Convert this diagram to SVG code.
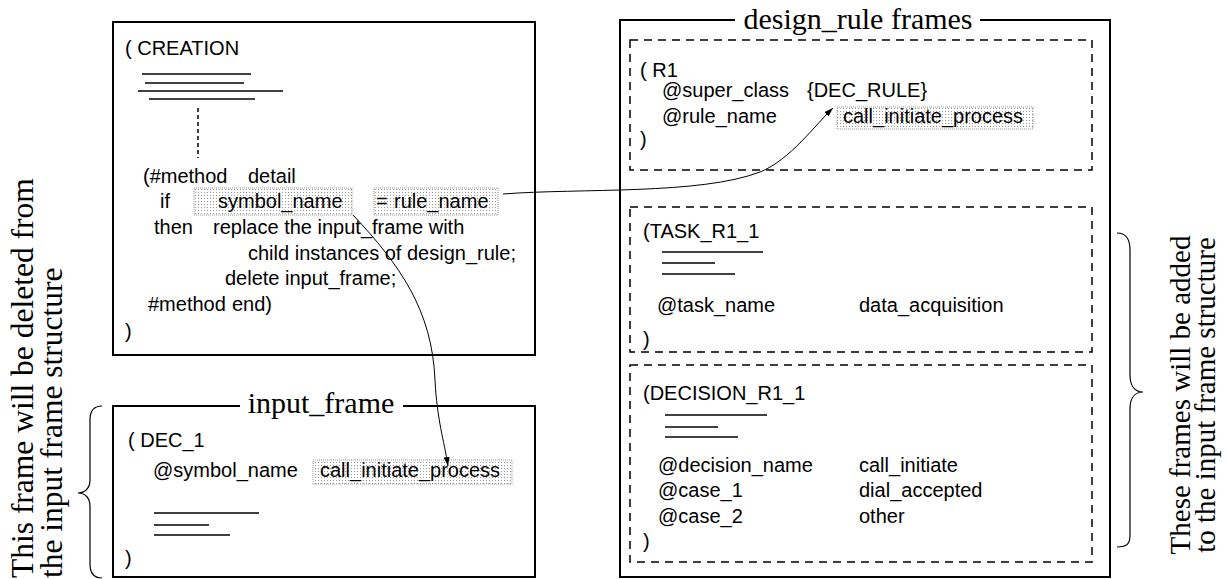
<svg xmlns="http://www.w3.org/2000/svg" width="1227" height="579" viewBox="0 0 1227 579">
<style>
.t{font-family:"Liberation Sans",Arial,sans-serif;font-size:20px;fill:#000}
.s{font-family:"Liberation Serif","Times New Roman",serif;font-size:30px;fill:#000}
.box{fill:none;stroke:#000;stroke-width:2}
.dash{fill:none;stroke:#000;stroke-width:1.5;stroke-dasharray:8 6}
.ln{stroke:#000;stroke-width:1.5}
.hl{fill:url(#dots);stroke:#999;stroke-width:1;stroke-dasharray:1 1}
.con{fill:none;stroke:#000;stroke-width:1}
.brace{fill:none;stroke:#000;stroke-width:1.2}
</style>
<defs>
<pattern id="dots" width="3" height="3" patternUnits="userSpaceOnUse">
<rect width="3" height="3" fill="#fff"/>
<rect width="1" height="1" fill="#999"/>
</pattern>
<marker id="arr" markerWidth="9" markerHeight="6" refX="9" refY="3" orient="auto" markerUnits="userSpaceOnUse">
<path d="M0,0 L9,3 L0,6 Z" fill="#000"/>
</marker>
</defs>
<rect width="1227" height="579" fill="#fff"/>

<g id="creation">
<rect class="box" x="113" y="22" width="422" height="333"/>
<text class="t" x="125" y="55">( CREATION</text>
<line class="ln" x1="142" y1="74" x2="251" y2="74"/>
<line class="ln" x1="145" y1="83" x2="244" y2="83"/>
<line class="ln" x1="138" y1="91" x2="283" y2="91"/>
<line class="ln" x1="149" y1="99" x2="255" y2="99"/>
<line x1="198" y1="108" x2="198" y2="158" stroke="#000" stroke-width="1.5" stroke-dasharray="4 3"/>
<rect class="hl" x="194" y="188" width="158" height="27"/>
<rect class="hl" x="374" y="188" width="124" height="27"/>
<text class="t" y="183"><tspan x="143">(#method</tspan><tspan x="248">detail</tspan></text>
<text class="t" y="208"><tspan x="160">if</tspan><tspan x="218">symbol_name</tspan><tspan x="376">=</tspan><tspan x="394">rule_name</tspan></text>
<text class="t" y="234"><tspan x="154">then</tspan><tspan x="213">replace the input_frame with</tspan></text>
<text class="t" x="248" y="260">child instances of design_rule;</text>
<text class="t" x="225" y="285">delete input_frame;</text>
<text class="t" y="311"><tspan x="148">#method</tspan><tspan x="232">end)</tspan></text>
<text class="t" x="125" y="338">)</text>
</g>

<g id="input-frame">
<path class="box" d="M240,406 L113,406 L113,577 L535,577 L535,406 L403,406"/>
<text class="s" x="321" y="413" text-anchor="middle">input_frame</text>
<text class="t" x="128" y="447">( DEC_1</text>
<rect class="hl" x="313" y="460" width="199" height="24"/>
<text class="t" x="153" y="477">@symbol_name</text>
<text class="t" x="320" y="477">call_initiate_process</text>
<line class="ln" x1="154" y1="513" x2="259" y2="513"/>
<line class="ln" x1="154" y1="525" x2="209" y2="525"/>
<line class="ln" x1="154" y1="535" x2="230" y2="535"/>
<text class="t" x="125" y="565">)</text>
</g>

<g id="design-rule-frames">
<path class="box" d="M735,20 L620,20 L620,577 L1110,577 L1110,20 L980,20"/>
<text class="s" x="858" y="29" text-anchor="middle">design_rule frames</text>
</g>

<g id="r1">
<rect class="dash" x="630" y="40" width="462" height="130"/>
<text class="t" x="640" y="77">( R1</text>
<text class="t" x="662" y="97">@super_class</text>
<text class="t" x="807" y="97">{DEC_RULE}</text>
<rect class="hl" x="837" y="107" width="196" height="22"/>
<text class="t" x="662" y="123">@rule_name</text>
<text class="t" x="843" y="123">call_initiate_process</text>
<text class="t" x="640" y="146">)</text>
</g>

<g id="task-r1-1">
<rect class="dash" x="630" y="207" width="462" height="145"/>
<text class="t" x="643" y="238">(TASK_R1_1</text>
<line class="ln" x1="662" y1="252" x2="763" y2="252"/>
<line class="ln" x1="662" y1="263" x2="715" y2="263"/>
<line class="ln" x1="662" y1="274" x2="735" y2="274"/>
<text class="t" x="657" y="312">@task_name</text>
<text class="t" x="859" y="312">data_acquisition</text>
<text class="t" x="643" y="346">)</text>
</g>

<g id="decision-r1-1">
<rect class="dash" x="630" y="365" width="462" height="197"/>
<text class="t" x="643" y="400">(DECISION_R1_1</text>
<line class="ln" x1="665" y1="415" x2="767" y2="415"/>
<line class="ln" x1="665" y1="427" x2="718" y2="427"/>
<line class="ln" x1="665" y1="437" x2="738" y2="437"/>
<text class="t" x="658" y="472">@decision_name</text>
<text class="t" x="859" y="472">call_initiate</text>
<text class="t" x="658" y="497">@case_1</text>
<text class="t" x="859" y="497">dial_accepted</text>
<text class="t" x="658" y="523">@case_2</text>
<text class="t" x="859" y="523">other</text>
<text class="t" x="643" y="548">)</text>
</g>

<g id="annotation-left">
<path class="brace" d="M102,406 C93,406 90,412 90,420 L90,480 C90,488 85,493 78,493 C85,493 90,498 90,506 L90,564 C90,572 93,578 102,578"/>
<text class="s" style="font-size:31.5px" transform="translate(33,578) rotate(-90)">This frame will be deleted from</text>
<text class="s" style="font-size:31.5px" transform="translate(62,578) rotate(-90)">the input frame structure</text>
</g>

<g id="annotation-right">
<path class="brace" d="M1117,233 C1127,233 1130,240 1130,250 L1130,375 C1130,386 1135,392 1143,392 C1135,392 1130,398 1130,409 L1130,535 C1130,544 1127,547 1117,547"/>
<text class="s" style="font-size:29px" text-anchor="middle" transform="translate(1190,395) rotate(-90)">These frames will be added</text>
<text class="s" style="font-size:29px" text-anchor="middle" transform="translate(1215,395) rotate(-90)">to the input frame structure</text>
</g>

<g id="connectors">
<path class="con" d="M503,194 C580,188 700,195 760,172 C790,160 815,125 833,108" marker-end="url(#arr)"/>
<path class="con" d="M353,215 C400,265 432,310 435,380 C437,420 444,440 448,466" marker-end="url(#arr)"/>
</g>
</svg>
